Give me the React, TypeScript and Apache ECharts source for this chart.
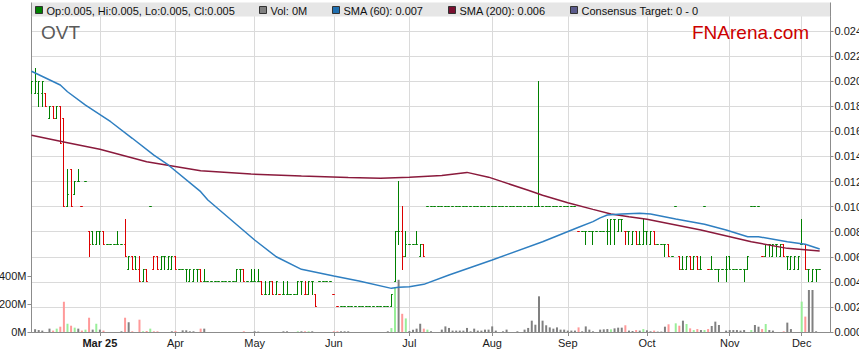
import React, { useEffect, useRef } from 'react';
import * as echarts from 'echarts';

// ---------- data ----------
const START_DATE = '2025-02-04'; // first weekday shown on the axis
const AXIS_DAYS = 223; // weekdays on the category axis
const MONTH_NAMES = ['Jan', 'Feb', 'Mar', 'Apr', 'May', 'Jun', 'Jul', 'Aug', 'Sep', 'Oct', 'Nov', 'Dec'];
const PRICE_TICKS = [0, 0.002, 0.004, 0.006, 0.008, 0.01, 0.012, 0.014, 0.016, 0.018, 0.02, 0.022, 0.024];
const VOLUME_TICKS = [0, 200, 400];
const TICKER = 'OVT';
const BRAND = 'FNArena.com';

// daily [open, high, low, close]
const OHLC: number[][] = [
  // 0-9
  [0.019, 0.02, 0.019, 0.02], [0.019, 0.021, 0.019, 0.02], [0.019, 0.02, 0.018, 0.02], [0.019, 0.02, 0.018, 0.02], [0.019, 0.019, 0.018, 0.018],
  [0.017, 0.018, 0.017, 0.018], [0.018, 0.018, 0.017, 0.017], [0.017, 0.018, 0.017, 0.018], [0.018, 0.018, 0.015, 0.015], [0.017, 0.017, 0.01, 0.01],
  // 10-19
  [0.01, 0.013, 0.01, 0.011], [0.013, 0.013, 0.01, 0.01], [0.011, 0.012, 0.011, 0.012], [0.012, 0.013, 0.012, 0.012], [0.01, 0.01, 0.01, 0.01],
  [0.012, 0.012, 0.012, 0.012], [0.008, 0.008, 0.006, 0.007], [0.008, 0.008, 0.007, 0.007], [0.007, 0.008, 0.007, 0.008], [0.008, 0.008, 0.007, 0.008],
  // 20-29
  [0.008, 0.008, 0.007, 0.007], [0.007, 0.007, 0.007, 0.007], [0.007, 0.007, 0.007, 0.007], [0.007, 0.007, 0.007, 0.007], [0.007, 0.008, 0.007, 0.007],
  [0.007, 0.007, 0.007, 0.007], [0.007, 0.009, 0.006, 0.006], [0.005, 0.006, 0.005, 0.006], [0.006, 0.006, 0.005, 0.005], [0.006, 0.006, 0.005, 0.005],
  // 30-39
  [0.005, 0.006, 0.004, 0.004], [0.004, 0.005, 0.004, 0.005], [0.005, 0.005, 0.004, 0.004], [0.01, 0.01, 0.01, 0.01], [0.005, 0.006, 0.005, 0.006],
  [0.006, 0.006, 0.005, 0.005], [0.005, 0.006, 0.005, 0.006], [0.006, 0.006, 0.005, 0.006], [0.005, 0.006, 0.005, 0.006], [0.005, 0.006, 0.005, 0.006],
  // 40-49
  [0.006, 0.006, 0.005, 0.005], [0.005, 0.005, 0.005, 0.005], [0.005, 0.005, 0.005, 0.005], [0.005, 0.005, 0.004, 0.005], [0.004, 0.005, 0.004, 0.005],
  [0.004, 0.005, 0.004, 0.005], [0.005, 0.005, 0.004, 0.005], [0.005, 0.005, 0.004, 0.004], [0.004, 0.005, 0.004, 0.004], [0.004, 0.004, 0.004, 0.004],
  // 50-59
  [0.004, 0.004, 0.004, 0.004], [0.004, 0.004, 0.004, 0.004], [0.004, 0.004, 0.004, 0.004], [0.004, 0.004, 0.004, 0.004], [0.004, 0.004, 0.004, 0.004],
  [0.004, 0.004, 0.004, 0.004], [0.004, 0.004, 0.004, 0.004], [0.004, 0.005, 0.004, 0.005], [0.005, 0.005, 0.004, 0.005], [0.005, 0.005, 0.004, 0.004],
  // 60-69
  [0.004, 0.004, 0.004, 0.004], [0.004, 0.005, 0.004, 0.004], [0.004, 0.005, 0.004, 0.004], [0.004, 0.005, 0.004, 0.004], [0.004, 0.004, 0.003, 0.003],
  [0.003, 0.004, 0.003, 0.003], [0.003, 0.004, 0.003, 0.004], [0.004, 0.004, 0.003, 0.003], [0.003, 0.004, 0.003, 0.004], [0.003, 0.003, 0.003, 0.003],
  // 70-79
  [0.003, 0.004, 0.003, 0.003], [0.003, 0.004, 0.003, 0.003], [0.003, 0.003, 0.003, 0.003], [0.003, 0.003, 0.003, 0.003], [0.003, 0.004, 0.003, 0.004],
  [0.004, 0.004, 0.003, 0.004], [0.003, 0.004, 0.003, 0.003], [0.003, 0.004, 0.003, 0.004], [0.004, 0.004, 0.003, 0.004], [0.003, 0.003, 0.002, 0.002],
  // 80-89
  [0.004, 0.004, 0.004, 0.004], [0.004, 0.004, 0.004, 0.004], [0.004, 0.004, 0.004, 0.004], [0.004, 0.004, 0.004, 0.004], [0.003, 0.003, 0.003, 0.003],
  [0.002, 0.002, 0.002, 0.002], [0.002, 0.002, 0.002, 0.002], [0.002, 0.002, 0.002, 0.002], [0.002, 0.002, 0.002, 0.002], [0.002, 0.002, 0.002, 0.002],
  // 90-99
  [0.002, 0.002, 0.002, 0.002], [0.002, 0.002, 0.002, 0.002], [0.002, 0.002, 0.002, 0.002], [0.002, 0.002, 0.002, 0.002], [0.002, 0.002, 0.002, 0.002],
  [0.002, 0.002, 0.002, 0.002], [0.002, 0.002, 0.002, 0.002], [0.002, 0.002, 0.002, 0.002], [0.002, 0.002, 0.002, 0.002], [0.002, 0.002, 0.002, 0.002],
  // 100-109
  [0.002, 0.003, 0.002, 0.003], [0.004, 0.008, 0.004, 0.008], [0.008, 0.012, 0.007, 0.008], [0.008, 0.01, 0.005, 0.006], [0.006, 0.008, 0.006, 0.007],
  [0.007, 0.007, 0.007, 0.007], [0.007, 0.007, 0.007, 0.007], [0.007, 0.008, 0.007, 0.007], [0.006, 0.007, 0.006, 0.007], [0.007, 0.007, 0.006, 0.006],
  // 110-119
  [0.01, 0.01, 0.01, 0.01], [0.01, 0.01, 0.01, 0.01], [0.01, 0.01, 0.01, 0.01], [0.01, 0.01, 0.01, 0.01], [0.01, 0.01, 0.01, 0.01],
  [0.01, 0.01, 0.01, 0.01], [0.01, 0.01, 0.01, 0.01], [0.01, 0.01, 0.01, 0.01], [0.01, 0.01, 0.01, 0.01], [0.01, 0.01, 0.01, 0.01],
  // 120-129
  [0.01, 0.01, 0.01, 0.01], [0.01, 0.01, 0.01, 0.01], [0.01, 0.01, 0.01, 0.01], [0.01, 0.01, 0.01, 0.01], [0.01, 0.01, 0.01, 0.01],
  [0.01, 0.01, 0.01, 0.01], [0.01, 0.01, 0.01, 0.01], [0.01, 0.01, 0.01, 0.01], [0.01, 0.01, 0.01, 0.01], [0.01, 0.01, 0.01, 0.01],
  // 130-139
  [0.01, 0.01, 0.01, 0.01], [0.01, 0.01, 0.01, 0.01], [0.01, 0.01, 0.01, 0.01], [0.01, 0.01, 0.01, 0.01], [0.01, 0.01, 0.01, 0.01],
  [0.01, 0.01, 0.01, 0.01], [0.01, 0.01, 0.01, 0.01], [0.01, 0.01, 0.01, 0.01], [0.01, 0.01, 0.01, 0.01], [0.01, 0.01, 0.01, 0.01],
  // 140-149
  [0.01, 0.01, 0.01, 0.01], [0.01, 0.02, 0.01, 0.01], [0.01, 0.01, 0.01, 0.01], [0.01, 0.01, 0.01, 0.01], [0.01, 0.01, 0.01, 0.01],
  [0.01, 0.01, 0.01, 0.01], [0.01, 0.01, 0.01, 0.01], [0.01, 0.01, 0.01, 0.01], [0.01, 0.01, 0.01, 0.01], [0.01, 0.01, 0.01, 0.01],
  // 150-159
  [0.01, 0.01, 0.01, 0.01], [0.01, 0.01, 0.01, 0.01], [0.008, 0.008, 0.008, 0.008], [0.008, 0.008, 0.008, 0.008], [0.008, 0.008, 0.007, 0.008],
  [0.008, 0.008, 0.008, 0.008], [0.008, 0.008, 0.007, 0.008], [0.008, 0.008, 0.008, 0.008], [0.008, 0.008, 0.008, 0.008], [0.008, 0.008, 0.008, 0.008],
  // 160-169
  [0.008, 0.009, 0.007, 0.008], [0.008, 0.009, 0.007, 0.009], [0.009, 0.009, 0.007, 0.009], [0.008, 0.009, 0.008, 0.009], [0.009, 0.009, 0.008, 0.009],
  [0.008, 0.008, 0.007, 0.008], [0.008, 0.008, 0.007, 0.008], [0.007, 0.008, 0.007, 0.008], [0.008, 0.008, 0.007, 0.007], [0.007, 0.008, 0.007, 0.007],
  // 170-179
  [0.007, 0.009, 0.007, 0.008], [0.008, 0.008, 0.007, 0.008], [0.007, 0.008, 0.007, 0.008], [0.008, 0.008, 0.007, 0.007], [0.007, 0.007, 0.007, 0.007],
  [0.007, 0.007, 0.007, 0.007], [0.007, 0.007, 0.006, 0.007], [0.007, 0.007, 0.006, 0.006], [0.006, 0.006, 0.006, 0.006], [0.01, 0.01, 0.01, 0.01],
  // 180-189
  [0.006, 0.006, 0.005, 0.005], [0.005, 0.006, 0.005, 0.005], [0.005, 0.006, 0.005, 0.006], [0.006, 0.006, 0.005, 0.005], [0.005, 0.006, 0.005, 0.006],
  [0.006, 0.006, 0.005, 0.005], [0.005, 0.006, 0.005, 0.005], [0.01, 0.01, 0.01, 0.01], [0.005, 0.005, 0.005, 0.005], [0.005, 0.006, 0.005, 0.005],
  // 190-199
  [0.005, 0.005, 0.005, 0.005], [0.005, 0.005, 0.004, 0.005], [0.005, 0.005, 0.005, 0.005], [0.005, 0.006, 0.004, 0.005], [0.006, 0.006, 0.005, 0.005],
  [0.005, 0.005, 0.005, 0.005], [0.005, 0.005, 0.005, 0.005], [0.005, 0.005, 0.005, 0.005], [0.005, 0.005, 0.004, 0.005], [0.005, 0.006, 0.005, 0.006],
  // 200-209
  [0.01, 0.01, 0.01, 0.01], [0.01, 0.01, 0.01, 0.01], [0.01, 0.01, 0.01, 0.01], [0.006, 0.006, 0.006, 0.006], [0.006, 0.007, 0.006, 0.007],
  [0.007, 0.007, 0.006, 0.007], [0.006, 0.007, 0.006, 0.007], [0.007, 0.007, 0.006, 0.007], [0.006, 0.007, 0.006, 0.007], [0.007, 0.007, 0.006, 0.006],
  // 210-219
  [0.006, 0.006, 0.005, 0.006], [0.005, 0.006, 0.005, 0.006], [0.005, 0.006, 0.005, 0.006], [0.005, 0.006, 0.005, 0.006], [0.007, 0.009, 0.007, 0.007],
  [0.007, 0.007, 0.005, 0.005], [0.005, 0.005, 0.004, 0.005], [0.004, 0.005, 0.004, 0.005], [0.005, 0.005, 0.004, 0.005], [0.005, 0.005, 0.005, 0.005],
];

// daily volume, millions of shares
const VOLUME_M: number[] = [
  0, 20, 14, 10, 0, 24, 10, 24, 38, 216,
  59, 45, 31, 24, 10, 17, 102, 17, 59, 17,
  10, 0, 0, 0, 0, 5, 102, 70, 5, 0,
  88, 5, 7, 24, 5, 5, 0, 0, 0, 5,
  7, 0, 12, 12, 5, 5, 0, 24, 24, 0,
  0, 0, 0, 0, 0, 0, 0, 0, 0, 5,
  0, 0, 5, 3, 0, 0, 0, 0, 0, 0,
  5, 5, 0, 0, 5, 5, 5, 5, 5, 0,
  0, 0, 0, 0, 5, 5, 5, 5, 5, 0,
  0, 0, 0, 0, 0, 0, 0, 0, 0, 5,
  28, 321, 373, 130, 97, 7, 16, 24, 59, 24,
  17, 5, 0, 0, 17, 40, 29, 10, 10, 10,
  10, 29, 5, 24, 10, 10, 17, 17, 40, 10,
  0, 5, 17, 0, 0, 5, 0, 17, 29, 81,
  52, 255, 81, 48, 33, 24, 33, 17, 17, 10,
  10, 10, 33, 5, 40, 17, 5, 0, 17, 19,
  21, 19, 26, 31, 31, 48, 10, 7, 14, 10,
  21, 12, 5, 10, 3, 3, 38, 55, 0, 62,
  45, 81, 57, 26, 14, 21, 14, 14, 21, 43,
  74, 50, 0, 10, 14, 14, 14, 10, 14, 0,
  14, 50, 38, 21, 57, 14, 10, 0, 0, 5,
  67, 21, 0, 0, 217, 110, 300, 300, 5, 0,
];

// moving averages: [day index, value]
const SMA60: number[][] = [
  [0, 0.0208], [8, 0.0197], [10, 0.01916], [15, 0.0181], [22, 0.01677], [28, 0.01545], [34, 0.01411],
  [38, 0.01332], [47, 0.01119], [49, 0.01053], [62, 0.00734], [68, 0.006], [75, 0.005], [84, 0.00447],
  [91, 0.00407], [100, 0.00348], [102, 0.00356], [105, 0.00361], [109, 0.0038], [116, 0.00455],
  [128, 0.00574], [142, 0.0072], [152, 0.00835], [156, 0.0088], [158, 0.0091], [160, 0.00933],
  [164, 0.00941], [169, 0.00947], [172, 0.00941], [179, 0.00901], [187, 0.00859], [193, 0.00813],
  [199, 0.0076], [202, 0.0076], [210, 0.0072], [215, 0.007], [219, 0.00662],
];
const SMA200: number[][] = [
  [0, 0.0157], [10, 0.0151], [19, 0.01457], [32, 0.01358], [47, 0.01286], [61, 0.0126], [75, 0.01244],
  [88, 0.01232], [97, 0.01226], [105, 0.01234], [114, 0.01248], [121, 0.01273], [127, 0.01235],
  [138, 0.0113], [142, 0.0109], [149, 0.01031], [156, 0.00978], [161, 0.00941], [166, 0.00919],
  [171, 0.00899], [186, 0.00813], [200, 0.0072], [210, 0.00667], [219, 0.00646],
];

// ---------- styling ----------
const FONT = '"Liberation Sans", Arial, Helvetica, sans-serif';
const UP = '#008000';
const DOWN = '#dd0000';
const VOL_UP = '#99ee99';
const VOL_DOWN = '#ff9999';
const VOL_FLAT = '#808080';
const SMA60_COLOR = '#2f7fc1';
const SMA200_COLOR = '#8a1a3c';
const AXIS_COLOR = '#8c8c8c';
const GRID_COLOR = '#dadada';

const DATES: string[] = (() => {
  const out: string[] = [];
  const d = new Date(START_DATE + 'T00:00:00Z');
  while (out.length < AXIS_DAYS) {
    const wd = d.getUTCDay();
    if (wd !== 0 && wd !== 6) out.push(d.toISOString().slice(0, 10));
    d.setUTCDate(d.getUTCDate() + 1);
  }
  return out;
})();

const isMonthStart = (i: number) => i > 0 && DATES[i].slice(5, 7) !== DATES[i - 1].slice(5, 7);
const firstLabelIdx = DATES.findIndex((_, i) => isMonthStart(i));

export default function App() {
  const ref = useRef<HTMLDivElement>(null);

  useEffect(() => {
    if (!ref.current) return;
    const chart = echarts.init(ref.current, null, { renderer: 'svg' });

    const closes = OHLC.map((r) => r[3]);
    const ohlcData = OHLC.map((r, i) => [i, r[0], r[1], r[2], r[3], i === 0 || r[3] >= closes[i - 1] ? 1 : 0]);
    const volData = VOLUME_M.map((v, i) => {
      const prev = i === 0 ? closes[0] : closes[i - 1];
      const c = closes[i];
      const color = c > prev ? VOL_UP : c < prev ? VOL_DOWN : VOL_FLAT;
      return { value: [i, v], itemStyle: { color } };
    });

    const last = OHLC[OHLC.length - 1];
    const lastVol = VOLUME_M[VOLUME_M.length - 1];
    const sma60Last = SMA60[SMA60.length - 1][1];
    const sma200Last = SMA200[SMA200.length - 1][1];

    const snap = (v: number) => Math.round(v - 0.5) + 0.5;
    const TICK = 1.3;

    const renderItem = (_params: any, api: any) => {
      const i = api.value(0);
      const pO = api.coord([i, api.value(1)]);
      const pH = api.coord([i, api.value(2)]);
      const pL = api.coord([i, api.value(3)]);
      const pC = api.coord([i, api.value(4)]);
      const color = api.value(5) ? UP : DOWN;
      const x = snap(pO[0]);
      const style = { stroke: color, lineWidth: 1 };
      const yH = snap(pH[1]);
      const yL = snap(pL[1]);
      const yO = snap(pO[1]);
      const yC = snap(pC[1]);
      return {
        type: 'group',
        children: [
          { type: 'line', shape: { x1: x, y1: yH - 0.5, x2: x, y2: yL + 0.5 }, style },
          { type: 'line', shape: { x1: x - TICK, y1: yO, x2: x, y2: yO }, style },
          { type: 'line', shape: { x1: x, y1: yC, x2: x + TICK, y2: yC }, style },
        ],
      };
    };

    const legendItems = [
      { x: 35.5, color: UP, text: `Op:${last[0].toFixed(3)}, Hi:${last[1].toFixed(3)}, Lo:${last[2].toFixed(3)}, Cl:${last[3].toFixed(3)}` },
      { x: 259.5, color: VOL_FLAT, text: `Vol: ${lastVol}M` },
      { x: 332.5, color: '#1f6fb0', text: `SMA (60): ${sma60Last.toFixed(3)}` },
      { x: 448.5, color: '#7a1030', text: `SMA (200): ${sma200Last.toFixed(3)}` },
      { x: 570.5, color: '#5b5b8c', text: 'Consensus Target: 0 - 0' },
    ];

    const graphics: any[] = [
      { type: 'rect', shape: { x: 31.5, y: 2.5, width: 799, height: 14 }, style: { fill: '#e6e6e6' }, z: 100 },
      { type: 'line', shape: { x1: 31.5, y1: 2.5, x2: 31.5, y2: 16.5 }, style: { stroke: AXIS_COLOR, lineWidth: 1 }, z: 101 },
      { type: 'line', shape: { x1: 830.5, y1: 2.5, x2: 830.5, y2: 16.5 }, style: { stroke: AXIS_COLOR, lineWidth: 1 }, z: 101 },
      {
        type: 'text', x: 41, y: 32, z: 101,
        style: { text: TICKER, font: `19px ${FONT}`, fill: '#5a5a5a', verticalAlign: 'middle' },
      },
      {
        type: 'text', x: 692, y: 32, z: 101,
        style: { text: BRAND, font: `19px ${FONT}`, fill: '#cc0000', verticalAlign: 'middle' },
      },
    ];
    legendItems.forEach((it) => {
      graphics.push({
        type: 'rect', z: 101, shape: { x: it.x, y: 6.5, width: 7, height: 7 },
        style: { fill: it.color, stroke: '#333', lineWidth: 1 },
      });
      graphics.push({
        type: 'text', z: 101, x: it.x + 11, y: 10.5,
        style: { text: it.text, font: `11px ${FONT}`, fill: '#111', verticalAlign: 'middle' },
      });
    });

    const option: any = {
      animation: false,
      backgroundColor: '#ffffff',
      textStyle: { fontFamily: FONT },
      grid: { left: 31.5, right: 28.5, top: 6, bottom: 31, containLabel: false, outerBoundsMode: 'none' },
      xAxis: {
        type: 'category',
        data: DATES,
        boundaryGap: false,
        axisLine: { show: true, lineStyle: { color: AXIS_COLOR, width: 1 } },
        axisTick: { show: true, interval: (i: number) => isMonthStart(i), length: 4, lineStyle: { color: AXIS_COLOR } },
        axisLabel: {
          interval: (i: number) => isMonthStart(i),
          margin: 5,
          fontSize: 11,
          color: '#1a1a1a',
          fontFamily: FONT,
          formatter: (v: string, i: number) => {
            const m = MONTH_NAMES[parseInt(v.slice(5, 7), 10) - 1];
            if (i === firstLabelIdx) return `{b|${m} ${v.slice(2, 4)}}`;
            return m;
          },
          rich: { b: { fontWeight: 'bold', fontSize: 11, fontFamily: FONT, color: '#1a1a1a' } },
        },
        splitLine: { show: true, interval: (i: number) => isMonthStart(i), lineStyle: { color: GRID_COLOR, width: 1 } },
      },
      yAxis: [
        {
          type: 'value',
          position: 'right',
          min: 0,
          max: 0.026,
          interval: 0.002,
          axisLine: { show: true, lineStyle: { color: AXIS_COLOR, width: 1 } },
          axisTick: { show: true, length: 3, customValues: PRICE_TICKS, lineStyle: { color: AXIS_COLOR } },
          axisLabel: {
            customValues: PRICE_TICKS,
            margin: 4,
            fontSize: 11,
            color: '#1a1a1a',
            fontFamily: FONT,
            formatter: (v: number) => (v > 0.0245 ? '' : v.toFixed(3)),
          },
          splitLine: { show: true, lineStyle: { color: GRID_COLOR, width: 1 } },
        },
        {
          type: 'value',
          position: 'left',
          min: 0,
          max: 2328.57,
          axisLine: { show: true, lineStyle: { color: AXIS_COLOR, width: 1 } },
          axisTick: { show: true, length: 4, customValues: VOLUME_TICKS, lineStyle: { color: AXIS_COLOR } },
          axisLabel: {
            customValues: VOLUME_TICKS,
            margin: 5,
            fontSize: 11,
            color: '#1a1a1a',
            fontFamily: FONT,
            formatter: (v: number) => (VOLUME_TICKS.indexOf(v) >= 0 ? `${v}M` : ''),
          },
          splitLine: { show: false },
        },
      ],
      series: [
        {
          type: 'bar',
          xAxisIndex: 0,
          yAxisIndex: 1,
          barWidth: 2,
          data: volData,
          silent: true,
          z: 1,
        },
        {
          type: 'custom',
          xAxisIndex: 0,
          yAxisIndex: 0,
          renderItem,
          data: ohlcData,
          encode: { x: 0, y: [1, 2, 3, 4] },
          clip: true,
          silent: true,
          z: 3,
        },
        {
          type: 'line',
          xAxisIndex: 0,
          yAxisIndex: 0,
          data: SMA200,
          symbol: 'none',
          lineStyle: { color: SMA200_COLOR, width: 1.5 },
          silent: true,
          z: 4,
        },
        {
          type: 'line',
          xAxisIndex: 0,
          yAxisIndex: 0,
          data: SMA60,
          symbol: 'none',
          lineStyle: { color: SMA60_COLOR, width: 1.5 },
          silent: true,
          z: 5,
        },
      ],
      graphic: { elements: graphics },
    };

    chart.setOption(option);
    return () => chart.dispose();
  }, []);

  return (
    <div
      ref={ref}
      style={{ position: 'fixed', left: 0, top: 0, width: 859, height: 363, background: '#fff' }}
    />
  );
}
